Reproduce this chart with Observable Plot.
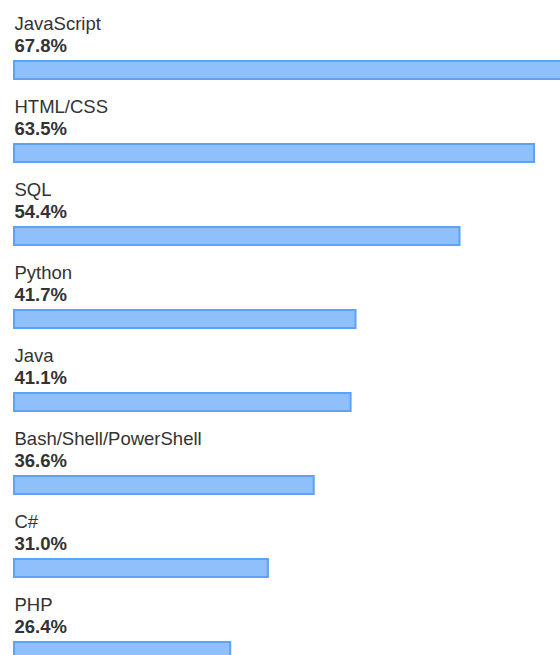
<!DOCTYPE html>
<html>
<head>
<meta charset="utf-8">
<script src="https://cdn.jsdelivr.net/npm/d3@7"></script>
<script src="https://cdn.jsdelivr.net/npm/@observablehq/plot@0.6"></script>
<style>
  html, body { margin: 0; padding: 0; overflow: hidden; background: #fff; }
  #chart { width: 560px; height: 655px; overflow: hidden; }
</style>
</head>
<body>
<div id="chart"></div>
<script>
const languages = ["JavaScript", "HTML/CSS", "SQL", "Python", "Java", "Bash/Shell/PowerShell", "C#", "PHP"];
const shares = [67.8, 63.5, 54.4, 41.7, 41.1, 36.6, 31.0, 26.4];

const data = languages.map((name, i) => ({name, value: shares[i], label: d3.format(".1f")(shares[i]) + "%"}));

const ROW = 83;
const chart = Plot.plot({
  width: 560,
  height: 655,
  marginTop: 0, marginRight: 0, marginBottom: 0, marginLeft: 0,
  style: {fontFamily: "'Liberation Sans', Arial, Helvetica, sans-serif", background: "#fff", overflow: "hidden"},
  x: {domain: [0, 100], range: [14, 14 + 819], axis: null},
  y: {type: "band", domain: languages, range: [0, ROW * languages.length], padding: 0, axis: null},
  marks: [
    Plot.barX(data, {
      x: "value", y: "name",
      insetTop: 61, insetBottom: 4,
      fill: "#60a5fa", fillOpacity: 0.7,
      stroke: "#5ca2f7", strokeWidth: 2
    }),
    Plot.text(data, {
      x: 0, y: "name", text: "name",
      textAnchor: "start", lineAnchor: "bottom",
      dy: 29 - ROW / 2, fontSize: 18.5, fill: "#333"
    }),
    Plot.text(data, {
      x: 0, y: "name", text: "label",
      textAnchor: "start", lineAnchor: "bottom",
      dy: 51 - ROW / 2, fontSize: 18.5, fontWeight: "bold", fill: "#333"
    })
  ]
});
document.getElementById("chart").appendChild(chart);
</script>
</body>
</html>
